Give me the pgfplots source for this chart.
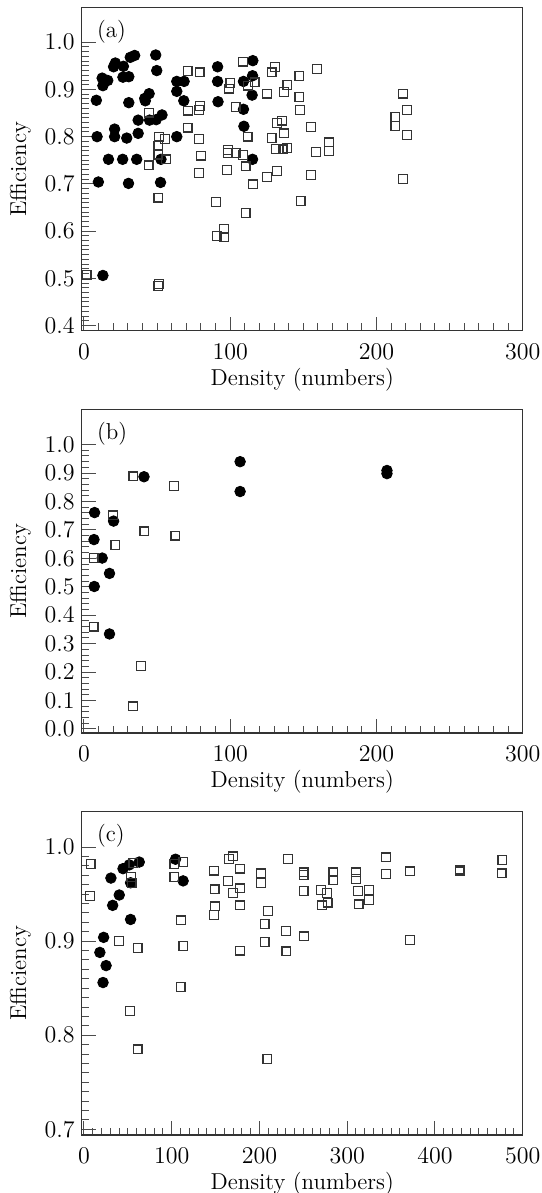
\documentclass[border=0pt]{standalone}
\usepackage{pgfplots}
\pgfplotsset{compat=1.18}

\begin{document}
\begin{tikzpicture}
\pgfplotsset{
  effpanel/.style={
    scale only axis,
    width=220.5pt, height=161.7pt,
    anchor=north west,
    font=\fontsize{11.5}{14}\selectfont,
    tick pos=left,
    tick align=inside,
    major tick length=7pt,
    minor tick length=3.6pt,
    axis line style={line width=0.6pt, black!80},
    every tick/.style={line width=0.5pt, black!70},
    xlabel={Density (numbers)},
    ylabel={Efficiency},
    xlabel style={at={(axis description cs:0.5,0)}, anchor=center, yshift=-24.5pt},
    xticklabel style={yshift=-3pt},
    yticklabel style={/pgf/number format/fixed, /pgf/number format/fixed zerofill, /pgf/number format/precision=1},
    scaled ticks=false,
    clip=false,
  },
  dots/.style={only marks, mark=*, mark size=2.65pt, mark options={fill=black, draw=black}},
  boxes/.style={only marks, mark=square, mark size=2.2pt, mark options={draw=black!80, line width=0.6pt, fill=none}},
}

% (a)
\begin{axis}[effpanel, at={(40.85pt,-3.65pt)},
  xmin=-1.5, xmax=300, ymin=0.389, ymax=1.074,
  xtick={0,100,200,300}, minor x tick num=9,
  ytick={0.4,0.5,0.6,0.7,0.8,0.9,1.0}, minor y tick num=9]
\node[anchor=north west, inner sep=0pt] at (rel axis cs:0.034,0.962) {(a)};
\addplot[dots] coordinates {
(8.5,0.877) (9.0,0.800) (9.9,0.704) (13,0.506) (12.5,0.924) (13,0.908)
(16.3,0.919) (16.8,0.752) (20.3,0.948) (21.5,0.956) (21,0.816) (21,0.800)
(27,0.949) (26.7,0.926) (30.7,0.927) (26.5,0.752) (29.3,0.797) (30.7,0.872)
(30.5,0.701) (31.7,0.968) (34.7,0.972) (36.1,0.752) (37.1,0.835) (37.1,0.807)
(41.6,0.881) (42,0.876) (44.6,0.891) (44.9,0.835) (49.1,0.973) (49.8,0.940)
(49.4,0.836) (53.4,0.846) (52.7,0.752) (52.4,0.703) (63.5,0.917) (63.5,0.896)
(68.5,0.917) (68.3,0.876) (63.5,0.800) (91.4,0.948) (91.4,0.917) (91.7,0.874)
(109.1,0.917) (109.1,0.858) (109.4,0.822) (115.5,0.961) (115.3,0.929)
(115.0,0.888) (115.3,0.752)
};
\addplot[boxes] coordinates {
(1.9,0.507) (44.6,0.851) (44.2,0.739) (51.3,0.800) (51,0.781) (51,0.762)
(55.5,0.795) (56,0.752) (51,0.671) (51,0.484) (51.2,0.488) (70.9,0.939)
(71.3,0.855) (70.9,0.819) (79.1,0.936) (79.4,0.865) (78.7,0.856) (78.7,0.795)
(80.1,0.760) (78.7,0.723) (90.5,0.662) (90.7,0.589) (95.7,0.604) (95.9,0.587)
(97.8,0.730) (98.7,0.772) (98.5,0.765) (99,0.902) (100.2,0.914) (103.7,0.863)
(103.7,0.766) (108.7,0.959) (108.7,0.761) (110.5,0.737) (110.5,0.638)
(111.9,0.800) (112.2,0.908) (116.7,0.915) (115.8,0.699) (125,0.891) (125,0.715)
(128.3,0.936) (130.6,0.947) (128.3,0.797) (131.1,0.774) (132,0.727) (132,0.829)
(135.4,0.834) (135.8,0.773) (136.8,0.895) (136.8,0.807) (139.1,0.909)
(139.1,0.776) (147.4,0.929) (147.4,0.884) (147.9,0.856) (148.1,0.664)
(155.2,0.821) (155.2,0.719) (159.2,0.943) (158.8,0.767) (167.7,0.788)
(167.7,0.770) (212.9,0.842) (212.9,0.822) (218,0.891) (221,0.856) (221,0.804)
(218,0.710)
};
\end{axis}

% (b)
\begin{axis}[effpanel, at={(40.85pt,-204.75pt)},
  xmin=-1.5, xmax=300, ymin=-0.014, ymax=1.1235,
  xtick={0,100,200,300}, minor x tick num=9,
  ytick={0,0.1,0.2,0.3,0.4,0.5,0.6,0.7,0.8,0.9,1.0}, minor y tick num=4]
\node[anchor=north west, inner sep=0pt] at (rel axis cs:0.034,0.962) {(b)};
\addplot[dots] coordinates {
(7.3,0.761) (6.9,0.666) (7.1,0.501) (12.5,0.601) (20.3,0.731) (17.5,0.547)
(17.5,0.334) (41.1,0.887) (106.8,0.940) (106.8,0.835) (207.2,0.909) (207.2,0.898)
};
\addplot[boxes] coordinates {
(33.8,0.888) (61.4,0.854) (20.1,0.751) (41.3,0.695) (62.6,0.680) (21.5,0.647)
(6.6,0.601) (6.6,0.360) (39.2,0.222) (33.5,0.079)
};
\end{axis}

% (c)
\begin{axis}[effpanel, at={(40.85pt,-405.8pt)},
  xmin=-2.6, xmax=500, ymin=0.694, ymax=1.0376,
  xtick={0,100,200,300,400,500}, minor x tick num=9,
  ytick={0.7,0.8,0.9,1.0}, minor y tick num=9]
\node[anchor=north west, inner sep=0pt] at (rel axis cs:0.034,0.962) {(c)};
\addplot[dots] coordinates {
(18.1,0.888) (21.7,0.856) (25.2,0.874) (22.4,0.904) (30.7,0.967) (32.7,0.938)
(40.2,0.949) (44.5,0.977) (51.6,0.981) (53.1,0.962) (53.1,0.923) (63,0.984)
(104.3,0.987) (113,0.964)
};
\addplot[boxes] coordinates {
(7.5,0.982) (7.1,0.948) (39.8,0.900) (52.4,0.826) (53.5,0.968) (56.3,0.983)
(54.3,0.962) (61,0.893) (61,0.785) (103.1,0.982) (103.1,0.968) (113.4,0.984)
(110.6,0.922) (110.2,0.851) (113.4,0.895) (148,0.975) (148.8,0.955)
(149.2,0.937) (148.4,0.928) (163.8,0.964) (165,0.987) (169.7,0.990)
(170.1,0.951) (177.6,0.977) (177.6,0.956) (177.6,0.938) (177.6,0.890)
(202,0.972) (201.6,0.962) (205.9,0.918) (205.9,0.899) (209.8,0.932) (209,0.775)
(232.7,0.987) (230.3,0.911) (230.7,0.889) (250.4,0.973) (250.4,0.970)
(250.4,0.953) (250.8,0.905) (270,0.954) (271.3,0.938) (277.2,0.951)
(277.6,0.941) (284.3,0.973) (284.3,0.965) (310.2,0.973) (310.2,0.966)
(312.6,0.953) (313,0.939) (324.8,0.954) (324.8,0.944) (344.5,0.989)
(344.1,0.971) (371.7,0.974) (371.7,0.901) (428,0.976) (428,0.974) (476.8,0.986)
(476,0.972)
};
\end{axis}

\pgfresetboundingbox
\path[use as bounding box] (0,0) rectangle (270.5pt,-596.5pt);
\end{tikzpicture}
\end{document}
